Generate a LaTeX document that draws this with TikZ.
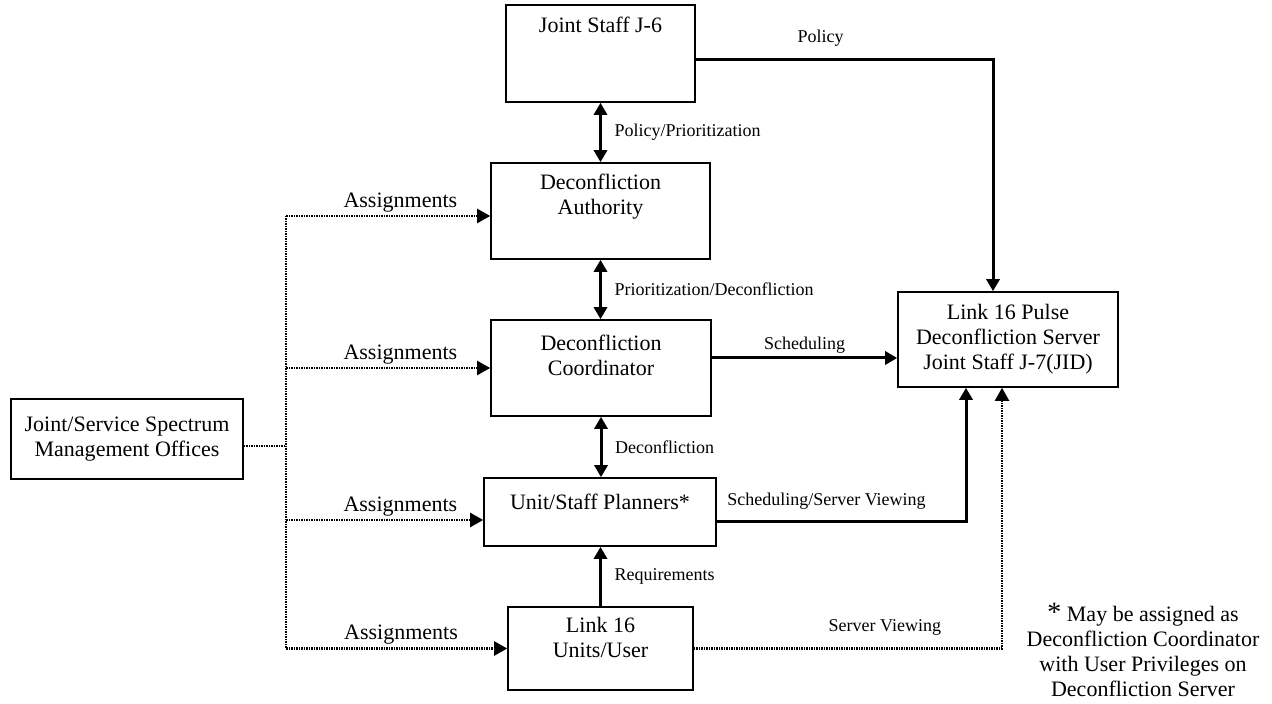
\documentclass[tikz,border=0pt]{standalone}
\usepackage{fontspec}
\setmainfont{Liberation Serif}
\usetikzlibrary{arrows.meta}

\begin{document}
\begin{tikzpicture}[x=0.5pt, y=-0.5pt,
    unitbox/.style={draw, line width=0.8pt, align=center, inner sep=0pt,
        font=\fontsize{11}{12.5}\selectfont},
    flow/.style={line width=1.5pt, -{Triangle[length=6pt, width=6.5pt]}},
    biflow/.style={line width=1.5pt,
        {Triangle[length=6pt, width=6.5pt]}-{Triangle[length=6pt, width=6.5pt]}},
    dotline/.style={line width=1.1pt, dash pattern=on 0.75pt off 0.5pt},
    dotflow/.style={dotline, -{Triangle[length=6.5pt, width=7pt]}},
    tag/.style={font=\fontsize{9}{11}\selectfont},
    bigtag/.style={font=\fontsize{11}{12.5}\selectfont}
]
    \useasboundingbox (0,0) rectangle (1272,704);

    % Organisation boxes
    \node[unitbox, minimum width=94.5pt, minimum height=48.5pt, text depth=28.9pt]
        (jsix) at (600.5,53.5) {Joint Staff J-6};
    \node[unitbox, minimum width=109.5pt, minimum height=48pt, text depth=16.9pt]
        (auth) at (600.5,211) {Deconfliction\\Authority};
    \node[unitbox, minimum width=110pt, minimum height=48pt, text depth=12.9pt]
        (coord) at (601,368) {Deconfliction\\Coordinator};
    \node[unitbox, minimum width=116pt, minimum height=34pt, text depth=10.4pt]
        (plan) at (600,512) {Unit/Staff Planners*};
    \node[unitbox, minimum width=92.5pt, minimum height=41.5pt, text depth=11.4pt]
        (link) at (600.5,648.5) {Link 16\\Units/User};
    \node[unitbox, minimum width=110pt, minimum height=47.5pt]
        (srv) at (1008,339.5) {Link 16 Pulse\\Deconfliction Server\\Joint Staff J-7(JID)};
    \node[unitbox, minimum width=116pt, minimum height=40pt]
        (jsmo) at (127,439) {Joint/Service Spectrum\\Management Offices};

    % Exchanges along the chain of command
    \draw[biflow] (jsix.south) -- (jsix.south |- auth.north)
        node[midway, right, tag, xshift=3pt] {Policy/Prioritization};
    \draw[biflow] (auth.south) -- (auth.south |- coord.north)
        node[midway, right, tag, xshift=3pt] {Prioritization/Deconfliction};
    \draw[biflow] (coord.south) -- (coord.south |- plan.north)
        node[midway, right, tag, xshift=3pt] {Deconfliction};
    \draw[flow] (link.north) -- (link.north |- plan.south)
        node[midway, right, tag, xshift=3pt] {Requirements};

    % Links into the deconfliction server
    \draw[flow] ([yshift=-3.25pt]jsix.east) -| ([xshift=-7.5pt]srv.north)
        node[pos=0.21, above, tag, yshift=2.5pt] {Policy};
    \draw[flow] ([yshift=5pt]coord.east) -- ([yshift=5pt]coord.east -| srv.west)
        node[midway, above, tag, yshift=-2pt] {Scheduling};
    \draw[flow] ([yshift=-5pt]plan.east) -| ([xshift=-21pt]srv.south)
        node[pos=0.22, above, tag, yshift=2pt] {Scheduling/Server Viewing};
    \draw[dotflow] (link.east) -| ([xshift=-3pt]srv.south)
        node[pos=0.31, above, tag, yshift=2.5pt] {Server Viewing};

    % Assignment bus from the spectrum offices
    \coordinate (bus) at (286,446);
    \coordinate (bustop) at (286,216);
    \coordinate (busend) at (286,648.5);
    \draw[dotline] ([yshift=-3.5pt]jsmo.east) -- (bus);
    \draw[dotline] (bustop) -- (busend);
    \draw[dotflow] (bustop) -- (bustop -| auth.west)
        node[pos=0.56, above, bigtag, yshift=-2pt] {Assignments};
    \draw[dotflow] (bus |- coord.west) -- (coord.west)
        node[pos=0.56, above, bigtag, yshift=-2pt] {Assignments};
    \draw[dotflow] ([yshift=-4pt]bus |- plan.west) -- ([yshift=-4pt]plan.west)
        node[pos=0.58, above, bigtag, yshift=-2pt] {Assignments};
    \draw[dotflow] (busend) -- (link.west)
        node[pos=0.52, above, bigtag, yshift=-2pt] {Assignments};

    % Footnote on the planners
    \node[bigtag, align=center] (note) at (1143,650)
        {{\fontsize{14}{12.5}\selectfont*} May be assigned as\\Deconfliction Coordinator\\with User Privileges on\\Deconfliction Server};

\end{tikzpicture}
\end{document}
